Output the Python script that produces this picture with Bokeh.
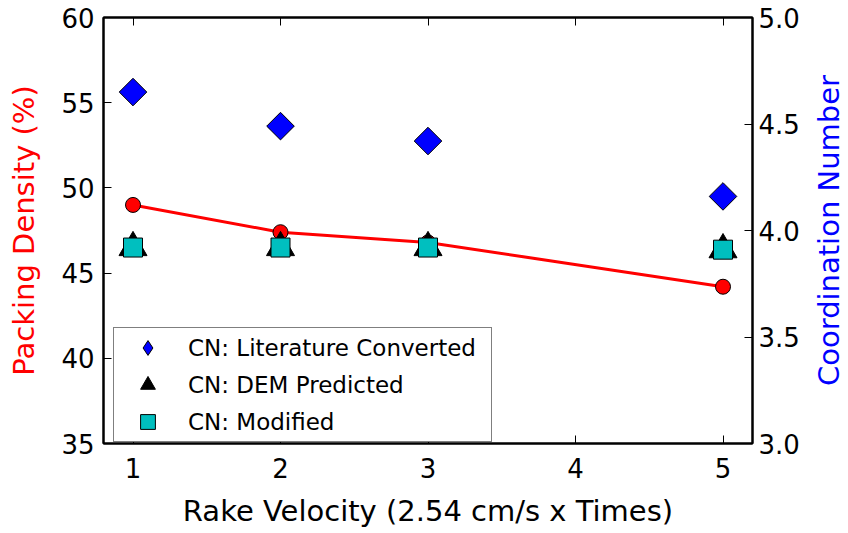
import math
from bokeh.plotting import figure
from bokeh.layouts import row
from bokeh.models import (Range1d, LinearAxis, FixedTicker, Legend, LegendItem,
                          ColumnDataSource, NumeralTickFormatter, Label)
from bokeh.embed import file_html
from bokeh.resources import INLINE

velocity = [1, 2, 3, 5]
packing_density = [49.0, 47.4, 46.8, 44.2]
cn_literature = [4.65, 4.49, 4.42, 4.16]
cn_dem = [3.92, 3.92, 3.92, 3.91]
cn_modified = [3.92, 3.92, 3.92, 3.91]

x_ticks = [1, 2, 3, 4, 5]
left_ticks = [35, 40, 45, 50, 55, 60]
right_ticks = [3.0, 3.5, 4.0, 4.5, 5.0]

FONT = "DejaVu Sans"

p = figure(width=802, height=533, output_backend="svg", toolbar_location=None,
           x_range=Range1d(0.8, 5.2), y_range=Range1d(35, 60),
           min_border_left=103, min_border_right=50, min_border_top=17, min_border_bottom=90)
p.extra_y_ranges = {"cn": Range1d(3.0, 5.0)}
p.grid.visible = False
p.outline_line_color = "black"
p.outline_line_width = 2
p.background_fill_color = "white"
p.border_fill_color = "white"

def style(ax):
    ax.major_tick_in = 8
    ax.major_tick_out = 0
    ax.minor_tick_line_color = None
    ax.axis_line_color = "black"
    ax.axis_line_width = 2
    ax.major_tick_line_width = 1
    ax.major_label_text_font = FONT
    ax.major_label_text_font_size = "26px"
    ax.major_label_text_color = "black"
    ax.axis_label_text_font = FONT
    ax.axis_label_text_font_size = "29px"
    ax.axis_label_text_font_style = "normal"
    ax.axis_label_text_color = "black"

xa = p.xaxis[0]
style(xa)
xa.ticker = FixedTicker(ticks=x_ticks)
xa.axis_label = "Rake Velocity (2.54 cm/s x Times)"
xa.major_label_standoff = 14
xa.axis_label_standoff = 13

ya = p.yaxis[0]
style(ya)
ya.ticker = FixedTicker(ticks=left_ticks)
ya.axis_label = "Packing Density (%)"
ya.axis_label_text_color = "red"
ya.major_label_standoff = 9
ya.axis_label_standoff = 17

ra = LinearAxis(y_range_name="cn", ticker=FixedTicker(ticks=right_ticks))
style(ra)
ra.formatter = NumeralTickFormatter(format="0.0")
ra.major_label_standoff = 6
p.add_layout(ra, "right")

ta = LinearAxis(ticker=FixedTicker(ticks=x_ticks))
style(ta)
ta.major_label_overrides = {t: "" for t in x_ticks}
ta.major_label_text_font_size = "2px"
ta.major_label_standoff = 0
p.add_layout(ta, "above")

src = ColumnDataSource(dict(x=velocity, pd=packing_density, lit=cn_literature,
                            dem=cn_dem, mod=cn_modified))

p.line("x", "pd", source=src, line_color="red", line_width=3)
p.scatter("x", "pd", source=src, marker="circle", size=15, fill_color="red",
          line_color="black", line_width=1)

# diamond key for the legend (legend glyphs are drawn unrotated); hidden under the rotated squares
r_lit_key = p.scatter("x", "lit", source=src, y_range_name="cn", marker="diamond", size=14,
                      fill_color="blue", line_color="black", line_width=1)
p.scatter("x", "lit", source=src, y_range_name="cn", marker="square", angle=math.pi / 4,
          size=19.5, fill_color="blue", line_color="black", line_width=1)
r_dem = p.scatter("x", "dem", source=src, y_range_name="cn", marker="triangle",
                  size=28, fill_color="black", line_color="black", line_width=1)
r_mod = p.scatter("x", "mod", source=src, y_range_name="cn", marker="square",
                  size=19, fill_color="#00bfbf", line_color="black", line_width=1)

legend = Legend(items=[
    LegendItem(label="CN: Literature Converted", renderers=[r_lit_key]),
    LegendItem(label="CN: DEM Predicted", renderers=[r_dem]),
    LegendItem(label="CN: Modified", renderers=[r_mod]),
], location=(10, 1))
legend.label_text_font = FONT
legend.label_text_font_size = "23px"
legend.label_text_color = "black"
legend.glyph_height = 37
legend.glyph_width = 65
legend.spacing = 0
legend.padding = 1
legend.margin = 0
legend.label_standoff = 8
legend.label_width = 302
legend.label_height = 37
legend.border_line_color = "black"
legend.border_line_width = 1.5
legend.background_fill_alpha = 1
p.add_layout(legend, "center")

# narrow companion panel carrying the right-hand axis title (reads bottom-to-top)
p2 = figure(width=46, height=533, output_backend="svg", toolbar_location=None,
            x_range=Range1d(0, 1), y_range=Range1d(0, 1),
            x_axis_location=None, y_axis_location=None,
            min_border_left=4, min_border_right=0, min_border_top=17, min_border_bottom=90)
p2.grid.visible = False
p2.outline_line_color = None
p2.add_layout(Label(x=0.5, y=0.5, text="Coordination Number", angle=math.pi / 2,
                    x_offset=1, text_align="center", text_baseline="middle",
                    text_font=FONT, text_font_size="29px", text_color="blue"))

layout = row(p, p2, spacing=0)
open("out.html", "w").write(file_html(layout, INLINE))
